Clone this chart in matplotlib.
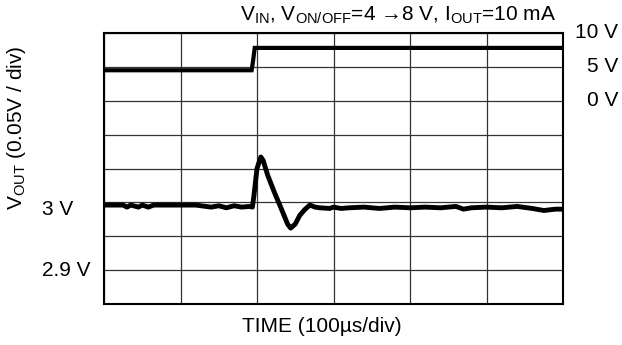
import matplotlib
matplotlib.use('Agg')
import matplotlib.pyplot as plt

plt.rcParams['font.family'] = ['Liberation Sans', 'DejaVu Sans']
plt.rcParams['mathtext.fontset'] = 'custom'
plt.rcParams['mathtext.rm'] = 'Liberation Sans'

# V_IN / V_ON/OFF step (time in us, volts)
t_in = [0, 193, 195, 197, 600]
v_in = [4.5, 4.5, 6.0, 7.8, 7.8]

# V_OUT response (time in us, volts)
t_out = [0, 25, 30, 35, 45, 50, 58, 65, 120, 140, 150, 160, 170, 180, 190, 194,
         196, 200, 205, 208, 214, 223, 232, 240, 244, 250, 256, 263, 269, 276,
         282, 295, 300, 310, 320, 340, 360, 380, 400, 420, 440, 460, 470, 480,
         500, 520, 540, 560, 575, 590, 600]
v_out = [2.996, 2.996, 2.993, 2.996, 2.993, 2.996, 2.993, 2.996, 2.996, 2.993,
         2.995, 2.992, 2.995, 2.993, 2.994, 2.993, 3.010, 3.050, 3.067, 3.062,
         3.040, 3.014, 2.990, 2.968, 2.962, 2.968, 2.981, 2.990, 2.996, 2.993,
         2.992, 2.991, 2.993, 2.991, 2.992, 2.993, 2.991, 2.993, 2.992, 2.993,
         2.992, 2.994, 2.990, 2.992, 2.993, 2.992, 2.994, 2.991, 2.988, 2.990,
         2.990]

right_labels = ['10 V', '5 V', '0 V']
right_levels = [10, 5, 0]
left_labels = ['3 V', '2.9 V']
left_levels = [3.0, 2.9]

def t_div(t):
    return [x / 100.0 for x in t]

def vin_div(v):
    return [6 + x / 5.0 for x in v]

def vout_div(v):
    return [1 + (x - 2.9) / 0.05 for x in v]

fs = 15

fig = plt.figure(figsize=(6.22, 3.45), dpi=100)
ax = fig.add_axes([104/622, 41/345, 459/622, 271/345])
ax.set_xlim(0, 6)
ax.set_ylim(0, 8)
ax.set_xticks(range(7))
ax.set_yticks(range(9))
ax.tick_params(length=0, labelbottom=False, labelleft=False)
ax.grid(True, color='#333333', linewidth=0.9)
for s in ax.spines.values():
    s.set_linewidth(1.5)
    s.set_color('black')

ax.plot(t_div(t_in), vin_div(v_in), color='black', lw=3, solid_joinstyle='miter')
ax.plot(t_div(t_out), vout_div(v_out), color='black', lw=3.5)

# scale labels, placed by axes-y via blended transform
for lab, lv in zip(right_labels, right_levels):
    fig.text(618/622, 1 - (304 - vin_div([lv])[0] * 271/8) / 345, lab,
             ha='right', va='center', fontsize=fs)
for lab, lv in zip(left_labels, left_levels):
    y = vout_div([lv])[0]
    if lv == 3.0:
        y -= 0.2
    fig.text(42/622, 1 - (304 - y * 271/8) / 345, lab, ha='left', va='center',
             fontsize=fs)

fig.text(556/622, 1 - 15/345,
         r'V$_{\mathregular{IN}}$, V$_{\mathregular{ON/OFF}}$=4 →8 V, I$_{\mathregular{OUT}}$=10 mA',
         ha='right', va='center', fontsize=fs)
fig.text(17/622, 1 - 128/345, r'V$_{\mathregular{OUT}}$ (0.05V / div)',
         rotation=90, ha='center', va='center', fontsize=fs)
fig.text(322/622, 1 - 327/345, 'TIME (100µs/div)', ha='center', va='center',
         fontsize=fs)

fig.savefig('out.png', dpi=100)
